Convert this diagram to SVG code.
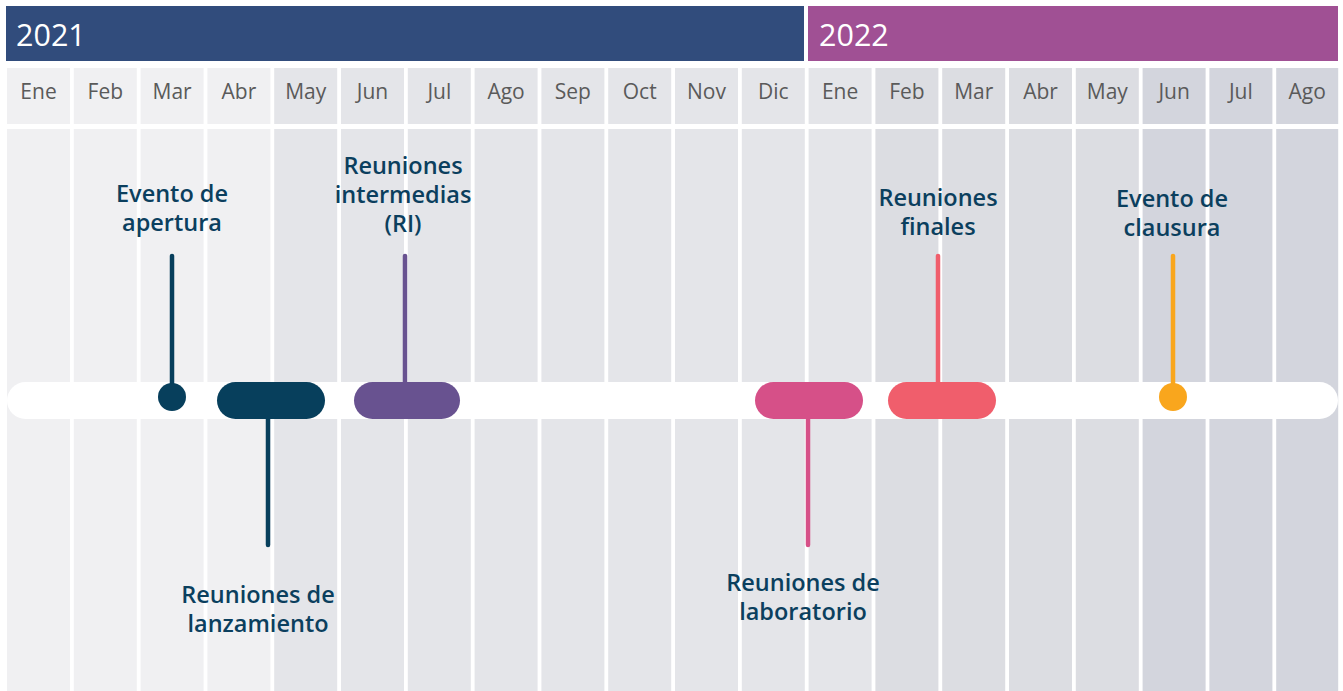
<svg xmlns="http://www.w3.org/2000/svg" width="1343" height="691" viewBox="0 0 1343 691">
<style>
.c0{fill:#f0f0f2}.c1{fill:#e4e5e9}.c2{fill:#dcdde2}.c3{fill:#d3d5dd}
.yr{font-family:"Open Sans","Liberation Sans",sans-serif;font-size:30.5px;fill:#ffffff}
.mo{font-family:"Open Sans","Liberation Sans",sans-serif;font-size:21px;fill:#5a5a5a;text-anchor:middle}
.lb{font-family:"Open Sans","Liberation Sans",sans-serif;font-size:23.5px;font-weight:600;fill:#0b3f5e;text-anchor:middle}
.stem{stroke-width:4.5;stroke-linecap:round;fill:none}
</style>
<rect width="1343" height="691" fill="#ffffff"/>
<g id="columns">
<rect class="c0" x="7" y="68" width="63" height="56"/><rect class="c0" x="7" y="129" width="63" height="562"/>
<rect class="c0" x="73.8" y="68" width="63" height="56"/><rect class="c0" x="73.8" y="129" width="63" height="562"/>
<rect class="c0" x="140.6" y="68" width="63" height="56"/><rect class="c0" x="140.6" y="129" width="63" height="562"/>
<rect class="c0" x="207.4" y="68" width="63" height="56"/><rect class="c0" x="207.4" y="129" width="63" height="562"/>
<rect class="c1" x="274.2" y="68" width="63" height="56"/><rect class="c1" x="274.2" y="129" width="63" height="562"/>
<rect class="c1" x="341" y="68" width="63" height="56"/><rect class="c1" x="341" y="129" width="63" height="562"/>
<rect class="c1" x="407.8" y="68" width="63" height="56"/><rect class="c1" x="407.8" y="129" width="63" height="562"/>
<rect class="c1" x="474.6" y="68" width="63" height="56"/><rect class="c1" x="474.6" y="129" width="63" height="562"/>
<rect class="c1" x="541.4" y="68" width="63" height="56"/><rect class="c1" x="541.4" y="129" width="63" height="562"/>
<rect class="c1" x="608.2" y="68" width="63" height="56"/><rect class="c1" x="608.2" y="129" width="63" height="562"/>
<rect class="c1" x="675" y="68" width="63" height="56"/><rect class="c1" x="675" y="129" width="63" height="562"/>
<rect class="c1" x="741.8" y="68" width="63" height="56"/><rect class="c1" x="741.8" y="129" width="63" height="562"/>
<rect class="c1" x="808.6" y="68" width="63" height="56"/><rect class="c1" x="808.6" y="129" width="63" height="562"/>
<rect class="c2" x="875.4" y="68" width="63" height="56"/><rect class="c2" x="875.4" y="129" width="63" height="562"/>
<rect class="c2" x="942.2" y="68" width="63" height="56"/><rect class="c2" x="942.2" y="129" width="63" height="562"/>
<rect class="c2" x="1009" y="68" width="63" height="56"/><rect class="c2" x="1009" y="129" width="63" height="562"/>
<rect class="c2" x="1075.8" y="68" width="63" height="56"/><rect class="c2" x="1075.8" y="129" width="63" height="562"/>
<rect class="c3" x="1142.6" y="68" width="63" height="56"/><rect class="c3" x="1142.6" y="129" width="63" height="562"/>
<rect class="c3" x="1209.4" y="68" width="63" height="56"/><rect class="c3" x="1209.4" y="129" width="63" height="562"/>
<rect class="c3" x="1276.2" y="68" width="62" height="56"/><rect class="c3" x="1276.2" y="129" width="62" height="562"/>
</g>
<g id="years">
<rect x="6" y="6" width="798" height="55" fill="#314c7c"/>
<text class="yr" x="16" y="46">2021</text>
<rect x="808" y="6" width="530" height="55" fill="#a05094"/>
<text class="yr" x="819" y="46">2022</text>
</g>
<g id="months">
<text class="mo" x="38.5" y="99">Ene</text>
<text class="mo" x="105.3" y="99">Feb</text>
<text class="mo" x="172.1" y="99">Mar</text>
<text class="mo" x="238.9" y="99">Abr</text>
<text class="mo" x="305.7" y="99">May</text>
<text class="mo" x="372.5" y="99">Jun</text>
<text class="mo" x="439.3" y="99">Jul</text>
<text class="mo" x="506.1" y="99">Ago</text>
<text class="mo" x="572.9" y="99">Sep</text>
<text class="mo" x="639.7" y="99">Oct</text>
<text class="mo" x="706.5" y="99">Nov</text>
<text class="mo" x="773.3" y="99">Dic</text>
<text class="mo" x="840.1" y="99">Ene</text>
<text class="mo" x="906.9" y="99">Feb</text>
<text class="mo" x="973.7" y="99">Mar</text>
<text class="mo" x="1040.5" y="99">Abr</text>
<text class="mo" x="1107.3" y="99">May</text>
<text class="mo" x="1174.1" y="99">Jun</text>
<text class="mo" x="1240.9" y="99">Jul</text>
<text class="mo" x="1307.2" y="99">Ago</text>
</g>
<g id="timeline">
<rect x="7" y="382" width="1331" height="37" rx="18.5" fill="#ffffff"/>
</g>
<g id="connectors">
<line class="stem" x1="172" y1="256" x2="172" y2="397" stroke="#073f5c"/>
<line class="stem" x1="268" y1="410" x2="268" y2="545" stroke="#073f5c"/>
<line class="stem" x1="405" y1="256" x2="405" y2="390" stroke="#685290"/>
<line class="stem" x1="808" y1="410" x2="808" y2="545" stroke="#d65088"/>
<line class="stem" x1="938" y1="256" x2="938" y2="390" stroke="#f05e6c"/>
<line class="stem" x1="1173" y1="256" x2="1173" y2="397" stroke="#f9a61d"/>
</g>
<g id="evento-apertura">
<circle cx="172" cy="397" r="14" fill="#073f5c"/>
<text class="lb" x="172" y="202">Evento de</text>
<text class="lb" x="172" y="231">apertura</text>
</g>
<g id="reuniones-lanzamiento">
<rect x="217" y="382" width="108" height="37" rx="18.5" fill="#073f5c"/>
<text class="lb" x="258" y="603">Reuniones de</text>
<text class="lb" x="258" y="632">lanzamiento</text>
</g>
<g id="reuniones-intermedias">
<rect x="354" y="382" width="106" height="37" rx="18.5" fill="#685290"/>
<text class="lb" x="403" y="174">Reuniones</text>
<text class="lb" x="403" y="203">intermedias</text>
<text class="lb" x="403" y="232">(RI)</text>
</g>
<g id="reuniones-laboratorio">
<rect x="755" y="382" width="108" height="37" rx="18.5" fill="#d65088"/>
<text class="lb" x="803" y="591">Reuniones de</text>
<text class="lb" x="803" y="620">laboratorio</text>
</g>
<g id="reuniones-finales">
<rect x="888" y="382" width="108" height="37" rx="18.5" fill="#f05e6c"/>
<text class="lb" x="938" y="206">Reuniones</text>
<text class="lb" x="938" y="235">finales</text>
</g>
<g id="evento-clausura">
<circle cx="1173" cy="397" r="14" fill="#f9a61d"/>
<text class="lb" x="1172" y="207">Evento de</text>
<text class="lb" x="1172" y="236">clausura</text>
</g>
</svg>
